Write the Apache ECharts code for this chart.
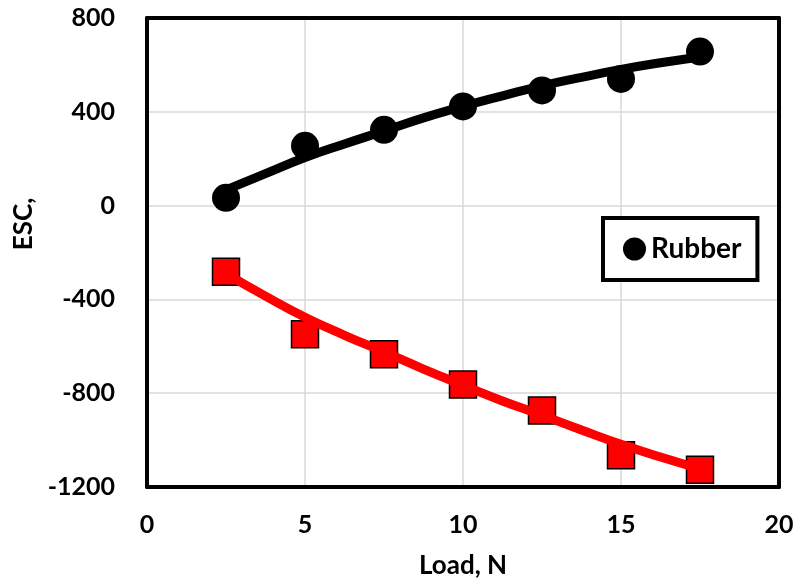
<!DOCTYPE html>
<html>
<head>
<meta charset="utf-8">
<script src="https://cdn.jsdelivr.net/npm/echarts@6/dist/echarts.min.js"></script>
<style>
html,body{margin:0;padding:0;background:#fff;}
#chart{width:799px;height:584px;}
</style>
</head>
<body>
<div id="chart"></div>
<script>
// Data
var loads = [2.5, 5, 7.5, 10, 12.5, 15, 17.5];
var rubberESC = [33, 255, 323, 423, 491, 540, 657];
var secondESC = [-282, -549, -634, -763, -874, -1065, -1126];

// Trend lines
var trendLoads = [2.5, 3.75, 5, 6.25, 7.5, 8.75, 10, 11.25, 12.5, 13.75, 15, 16.25, 17.5];
var rubberTrend = [67, 136, 205, 263, 318, 374, 423, 468, 511, 547, 581, 609, 634];
var secondTrend = [-290, -386, -476, -553, -624, -697, -766, -833, -894, -957, -1018, -1072, -1122];

var xTicks = [0, 5, 10, 15, 20];
var yTicks = [-1200, -800, -400, 0, 400, 800];

var legendName = 'Rubber';
var xName = 'Load, N';
var yName = 'ESC,';

function pairs(xs, ys) { return xs.map(function (x, i) { return [x, ys[i]]; }); }

var FONT = 'Lato';
var frameLine = {show: true, onZero: false, lineStyle: {color: '#000', width: 4}};
var labelStyle = {fontFamily: FONT, fontWeight: 'bold', fontSize: 25, color: '#000'};
var nameStyle = {fontFamily: FONT, fontWeight: 'bold', fontSize: 26, color: '#000'};
var chart = echarts.init(document.getElementById('chart'), null, {renderer: 'canvas'});
chart.setOption({
  animation: false,
  backgroundColor: '#fff',
  grid: {left: 147, top: 18, right: 20, bottom: 96},
  xAxis: [{
    type: 'value', position: 'bottom',
    min: xTicks[0], max: xTicks[xTicks.length - 1], interval: 5,
    name: xName, nameLocation: 'middle', nameGap: 66,
    nameTextStyle: nameStyle,
    axisLine: frameLine, axisTick: {show: false},
    axisLabel: Object.assign({margin: 25, formatter: function (v) { return String(v); }}, labelStyle),
    splitLine: {show: true, lineStyle: {color: '#d9d9d9', width: 1.5}}
  }, {
    type: 'value', position: 'top',
    min: xTicks[0], max: xTicks[xTicks.length - 1], interval: 5,
    axisLine: frameLine, axisTick: {show: false}, axisLabel: {show: false}, splitLine: {show: false}
  }],
  yAxis: [{
    type: 'value', position: 'left',
    min: yTicks[0], max: yTicks[yTicks.length - 1], interval: 400,
    axisLine: frameLine, axisTick: {show: false},
    axisLabel: Object.assign({margin: 32, formatter: function (v) { return String(v); }}, labelStyle),
    splitLine: {show: true, lineStyle: {color: '#d9d9d9', width: 1.5}}
  }, {
    type: 'value', position: 'right',
    min: yTicks[0], max: yTicks[yTicks.length - 1], interval: 400,
    axisLine: frameLine, axisTick: {show: false}, axisLabel: {show: false}, splitLine: {show: false}
  }],
  legend: {
    data: [{name: legendName, icon: 'circle'}],
    left: 603, top: 218,
    orient: 'vertical',
    itemWidth: 23, itemHeight: 23, itemGap: 0,
    padding: [17, 16, 17, 20],
    borderColor: '#000', borderWidth: 4, backgroundColor: '#fff',
    textStyle: {fontFamily: FONT, fontWeight: 'bold', fontSize: 28, color: '#000'}
  },
  graphic: [{
    type: 'text',
    style: {text: yName, fontFamily: FONT, fontWeight: 'bold', fontSize: 26, fill: '#000',
            textAlign: 'center', textVerticalAlign: 'middle'},
    rotation: Math.PI / 2,
    x: 24, y: 224
  }],
  series: [
    {
      name: legendName, type: 'scatter', data: pairs(loads, rubberESC),
      symbol: 'circle', symbolSize: 28, z: 2,
      itemStyle: {color: '#000', opacity: 1}
    },
    {
      name: 'Second', type: 'scatter', data: pairs(loads, secondESC),
      symbol: 'rect', symbolSize: 27, z: 2,
      itemStyle: {color: '#ff0000', borderColor: '#000', borderWidth: 1.5, opacity: 1}
    },
    {
      name: 'Rubber trend', type: 'line', data: pairs(trendLoads, rubberTrend),
      smooth: true, showSymbol: false, z: 3,
      lineStyle: {color: '#000', width: 9}
    },
    {
      name: 'Second trend', type: 'line', data: pairs(trendLoads, secondTrend),
      smooth: true, showSymbol: false, z: 3,
      lineStyle: {color: '#ff0000', width: 9}
    }
  ]
});
</script>
</body>
</html>
